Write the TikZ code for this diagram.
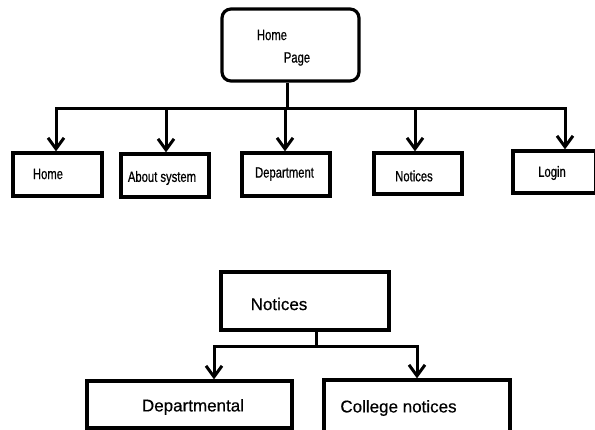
\documentclass[tikz,border=0pt]{standalone}
\usepackage{fontspec}
\setmainfont{Liberation Sans}
\newfontfamily\narrowfont[FakeStretch=0.75,FakeBold=0.6]{Liberation Sans}
\newfontfamily\wideerfont[FakeBold=0.5]{Liberation Sans}
\usetikzlibrary{arrows.meta}
\begin{document}
\begin{tikzpicture}[x=1pt,y=-1pt,
  boxstyle/.style={draw, line width=3.2pt, rectangle, inner sep=0pt},
  rbox/.style={boxstyle, rounded corners=9pt},
  lbl/.style={inner sep=0pt, font=\narrowfont\fontsize{15}{17}\selectfont},
  biglbl/.style={inner sep=0pt, font=\wideerfont\fontsize{17}{20}\selectfont},
  conn/.style={line width=3pt},
  arr/.style={conn, -{Straight Barb[length=11pt,width=16pt]}}]
\useasboundingbox (0,0) rectangle (595,430);
\clip (0,0) rectangle (595,430);
% top level
\node[rbox, minimum width=137pt, minimum height=72pt] (hp) at (290.5,45) {};
\node[lbl] (hpa) at (272,35) {Home};
\node[lbl] (hpb) at (297,59) {Page};
\node[boxstyle, minimum width=89pt, minimum height=43pt] (home) at (57.5,174.5) {};
\node[lbl] (homet) at (48,174) {Home};
\node[boxstyle, minimum width=88pt, minimum height=43pt] (about) at (165,175.5) {};
\node[lbl] (aboutt) at (162,178) {About system};
\node[boxstyle, minimum width=88pt, minimum height=43pt] (dept) at (286,174.5) {};
\node[lbl] (deptt) at (284.5,174) {Department};
\node[boxstyle, minimum width=88pt, minimum height=41pt] (noti) at (418,173.5) {};
\node[lbl] (notit) at (414,176) {Notices};
\node[boxstyle, minimum width=83pt, minimum height=42pt] (login) at (554.5,172) {};
\node[lbl] (logint) at (552,173) {Login};
\coordinate (bus) at (287,109);
\coordinate (b1) at (56,109);
\coordinate (b2) at (166,109);
\coordinate (b3) at (285,109);
\coordinate (b4) at (415,109);
\coordinate (b5) at (565,109);
\draw[conn] (bus |- hp.south) -- (bus);
\draw[conn, line cap=rect] (b1) -- (b5);
\draw[arr] (b1) -- (b1 |- home.north);
\draw[arr] (b2) -- (b2 |- about.north);
\draw[arr] (b3) -- (b3 |- dept.north);
\draw[arr] (b4) -- (b4 |- noti.north);
\draw[arr] (b5) -- (b5 |- login.north);
% bottom level
\node[boxstyle, minimum width=168pt, minimum height=58pt] (n2) at (305,301) {};
\node[biglbl] (n2t) at (279,304) {Notices};
\node[boxstyle, minimum width=205pt, minimum height=47pt] (dep2) at (189.5,404.5) {};
\node[biglbl] (dep2t) at (193,407) {Departmental};
\node[boxstyle, minimum width=186pt, minimum height=62pt] (col) at (417,411) {};
\node[biglbl] (colt) at (398.5,408) {College notices};
\coordinate (bus2) at (316,347);
\coordinate (c1) at (214,347);
\coordinate (c2) at (417,347);
\draw[conn] (bus2 |- n2.south) -- (bus2);
\draw[conn, line cap=rect] (c1) -- (c2);
\draw[arr] (c1) -- (c1 |- dep2.north);
\draw[arr] (c2) -- (c2 |- col.north);
\end{tikzpicture}
\end{document}
